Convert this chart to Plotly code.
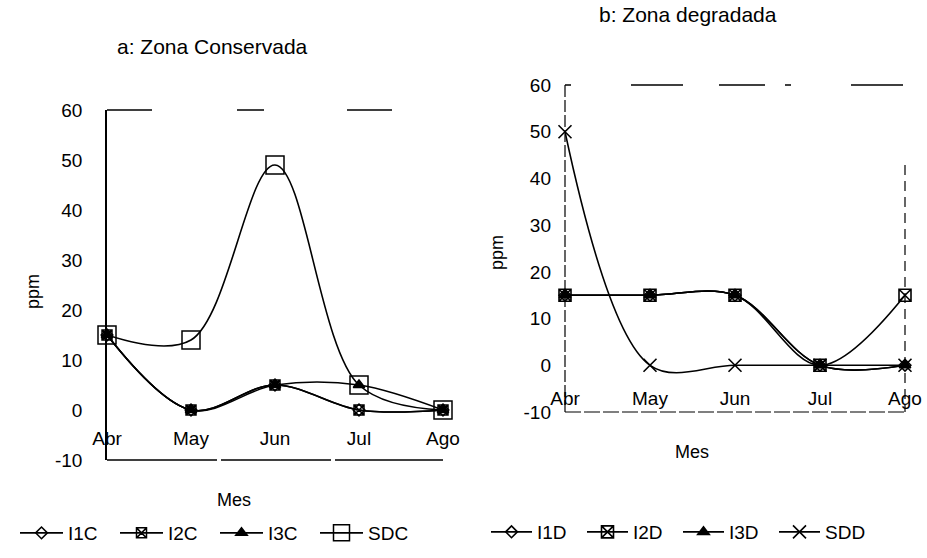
import plotly.graph_objects as go

# Months sampled
meses = ["Abr", "May", "Jun", "Jul", "Ago"]

# a: Zona Conservada (ppm)
i1c = [15, 0, 5, 0, 0]
i2c = [15, 0, 5, 0, 0]
i3c = [15, 0, 5, 5, 0]
sdc = [15, 14, 49, 5, 0]

# b: Zona degradada (ppm)
i1d = [15, 15, 15, 0, 0]
i2d = [15, 15, 15, 0, 15]
i3d = [15, 15, 15, 0, 0]
sdd = [50, 0, 0, 0, 0]

# ppm axis ticks (plain hyphen for the negative label)
ppm_ticks = [-10, 0, 10, 20, 30, 40, 50, 60]
ppm_labels = ["-10", "0", "10", "20", "30", "40", "50", "60"]

FONT = "Liberation Sans, Arial, sans-serif"
W, H = 927, 558


def px_x(v):
    return v / W


def px_y(v):
    return 1 - v / H


fig = go.Figure()

line = dict(color="black", width=1.6, shape="spline", smoothing=1)

left_series = [
    ("I1C", i1c, dict(symbol="diamond-open", size=9)),
    ("I2C", i2c, dict(symbol="square-x-open", size=10)),
    ("I3C", i3c, dict(symbol="triangle-up", size=10)),
    ("SDC", sdc, dict(symbol="square-open", size=18)),
]
for name, vals, mk in left_series:
    fig.add_trace(go.Scatter(
        x=meses, y=vals, name=name, mode="lines+markers",
        line=line, marker=dict(color="black", line=dict(color="black", width=1.5), **mk),
        xaxis="x", yaxis="y", legend="legend", cliponaxis=False,
    ))

right_series = [
    ("I1D", i1d, dict(symbol="diamond-open", size=9)),
    ("I2D", i2d, dict(symbol="square-x-open", size=12)),
    ("I3D", i3d, dict(symbol="triangle-up", size=10)),
    ("SDD", sdd, dict(symbol="x-thin-open", size=13)),
]
for name, vals, mk in right_series:
    fig.add_trace(go.Scatter(
        x=meses, y=vals, name=name, mode="lines+markers",
        line=line, marker=dict(color="black", line=dict(color="black", width=1.6), **mk),
        xaxis="x2", yaxis="y2", legend="legend2", cliponaxis=False,
    ))

tickfont = dict(family=FONT, size=19, color="black")
legfont = dict(family=FONT, size=19, color="black")

# Left panel geometry (px)
L_x0, L_x1 = 107, 443
L_top, L_bot = 110, 460
# Right panel geometry (px)
R_x0, R_x1 = 565, 905
R_top, R_bot = 85, 412

fig.update_layout(
    width=W, height=H,
    margin=dict(l=0, r=0, t=0, b=0, autoexpand=False),
    paper_bgcolor="white", plot_bgcolor="white",
    font=dict(family=FONT, size=19, color="black"),
    xaxis=dict(
        domain=[px_x(L_x0), px_x(L_x1)], range=[0, 4], type="category",
        anchor="free", position=px_y(425), showline=False, showgrid=False,
        zeroline=False, ticks="", tickfont=tickfont,
    ),
    yaxis=dict(
        domain=[px_y(L_bot), px_y(L_top)], range=[-10, 60], anchor="x",
        tickvals=ppm_ticks, ticktext=ppm_labels,
        showgrid=False, zeroline=False, showline=True,
        linecolor="black", linewidth=1.5, ticks="", tickfont=tickfont,
        ticklabelstandoff=19,
    ),
    xaxis2=dict(
        domain=[px_x(R_x0), px_x(R_x1)], range=[0, 4], type="category",
        anchor="free", position=px_y(385), showline=False, showgrid=False,
        zeroline=False, ticks="", tickfont=tickfont,
    ),
    yaxis2=dict(
        domain=[px_y(R_bot), px_y(R_top)], range=[-10, 60], anchor="x2",
        tickvals=ppm_ticks, ticktext=ppm_labels,
        showgrid=False, zeroline=False, showline=False,
        ticks="", tickfont=tickfont, ticklabelstandoff=13,
    ),
    legend=dict(
        orientation="h", x=px_x(15), y=px_y(533), xanchor="left", yanchor="middle",
        font=legfont, bgcolor="rgba(0,0,0,0)",
        entrywidth=42, entrywidthmode="pixels", itemwidth=43, itemclick=False,
    ),
    legend2=dict(
        orientation="h", x=px_x(486), y=px_y(532), xanchor="left", yanchor="middle",
        font=legfont, bgcolor="rgba(0,0,0,0)",
        entrywidth=40, entrywidthmode="pixels", itemwidth=41, itemclick=False,
    ),
    showlegend=True,
)

annots = [
    ("a: Zona Conservada", 212, 46, 0, 21),
    ("b: Zona degradada", 688, 15, 0, 21),
    ("Mes", 234, 500, 0, 18),
    ("Mes", 692, 452, 0, 18),
    ("ppm", 33, 292, -90, 18),
    ("ppm", 497, 253, -90, 18),
]
for text, ax, ay, ang, sz in annots:
    fig.add_annotation(
        text=text, x=px_x(ax), y=px_y(ay), xref="paper", yref="paper",
        showarrow=False, textangle=ang, xanchor="center", yanchor="middle",
        font=dict(family=FONT, size=sz, color="black"),
    )

# Plot-area frames drawn as broken (dashed) lines
frames = [
    # left panel: broken top edge, solid bottom edge
    (L_x0, L_top, L_x1, L_top, "45px,85px,27px,83px", 1.3),
    (L_x0, L_bot, L_x1, L_bot, "110px,4px", 1.5),
    # right panel edges
    (R_x0, R_top, R_x1, R_top, "6px,60px,52px,36px,46px,20px", 1.3),
    (R_x1, R_top + 80, R_x1, R_bot, "10px,6px", 1.2),
    (R_x0, R_bot, R_x1, R_bot, "16px,3px", 1.2),
    (R_x0, R_top, R_x0, R_bot, "12px,3px", 1.2),
]
for x0, y0, x1, y1, dash, w in frames:
    fig.add_shape(
        type="line", xref="paper", yref="paper",
        x0=px_x(x0), y0=px_y(y0), x1=px_x(x1), y1=px_y(y1),
        line=dict(color="black", width=w, dash=dash), layer="below",
    )

fig.write_html("out.html")
